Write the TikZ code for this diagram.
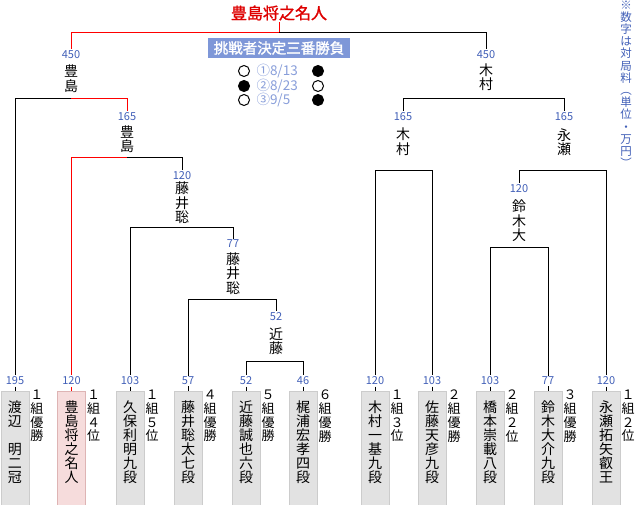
\documentclass[tikz,border=0pt]{standalone}
\usepackage{fontspec}
\usepackage{xcolor}
\usetikzlibrary{positioning}
\newfontfamily\jp{Noto Sans CJK JP}
\newfontfamily\jpbold[FakeBold=1.5]{Noto Sans CJK JP}

\definecolor{feeblue}{RGB}{66,96,184}
\definecolor{dateblue}{RGB}{136,158,218}
\definecolor{seriesblue}{RGB}{126,151,216}
\definecolor{boxgray}{RGB}{226,226,226}
\definecolor{boxedge}{RGB}{204,204,204}
\definecolor{boxpink}{RGB}{246,220,220}
\definecolor{pinkedge}{RGB}{222,180,180}
\definecolor{titlered}{RGB}{222,0,0}

\tikzset{
  fee/.style={font=\jp\fontsize{11}{11}\selectfont, text=feeblue, inner sep=1pt},
  winner/.style={font=\jp\fontsize{14}{14.5}\selectfont, align=center, inner sep=0pt},
  player/.style={minimum width=28pt, minimum height=114pt, inner sep=0pt, anchor=north},
  pname/.style={font=\jp\fontsize{14}{14}\selectfont, align=center, inner sep=0pt},
  rank/.style={font=\jp\fontsize{13}{13.8}\selectfont, align=center, inner sep=0pt},
  champ/.style={draw=red},
  stone/.style={circle, draw=black, minimum size=11pt, inner sep=0pt},
  result/.style={font=\jp\fontsize{13.5}{14}\selectfont, text=dateblue, inner sep=0pt, anchor=west}
}

\begin{document}
\begin{tikzpicture}[x=1pt,y=-1pt,line width=1pt]
\useasboundingbox (0,0) rectangle (635,505);
\fill[white] (0,0) rectangle (635,505);

\foreach \i/\x/\name/\fee/\rank/\bg/\bd/\lc in {
  1/15/渡\\辺\\　\\明\\二\\冠/195/１\\組\\優\\勝/boxgray/boxedge/black,
  2/71.5/豊\\島\\将\\之\\名\\人/120/１\\組\\４\\位/boxpink/pinkedge/red,
  3/130/久\\保\\利\\明\\九\\段/103/１\\組\\５\\位/boxgray/boxedge/black,
  4/188/藤\\井\\聡\\太\\七\\段/57/４\\組\\優\\勝/boxgray/boxedge/black,
  5/246/近\\藤\\誠\\也\\六\\段/52/５\\組\\優\\勝/boxgray/boxedge/black,
  6/303/梶\\浦\\宏\\孝\\四\\段/46/６\\組\\優\\勝/boxgray/boxedge/black,
  7/375/木\\村\\一\\基\\九\\段/120/１\\組\\３\\位/boxgray/boxedge/black,
  8/432/佐\\藤\\天\\彦\\九\\段/103/２\\組\\優\\勝/boxgray/boxedge/black,
  9/490/橋\\本\\崇\\載\\八\\段/103/２\\組\\２\\位/boxgray/boxedge/black,
  10/548/鈴\\木\\大\\介\\九\\段/77/３\\組\\優\\勝/boxgray/boxedge/black,
  11/606/永\\瀬\\拓\\矢\\叡\\王/120/１\\組\\２\\位/boxgray/boxedge/black}
{
  \node[player, fill=\bg, draw=\bd] (p\i) at (\x,391) {};
  \node[pname] (n\i) at (\x,442) {\name};
  \node[fee] (f\i) at (\x,381) {\fee};
  \node[rank] (r\i) at (\x+22,416) {\rank};
  \draw[\lc] (f\i) -- (p\i);
}

% title and final
\node[font=\jpbold\fontsize{16}{16}\selectfont, text=titlered, inner sep=1pt] (champ) at (279,13) {豊島将之名人};
\node[fill=seriesblue, text=white, font=\jpbold\fontsize{14.5}{15}\selectfont, minimum width=142pt, minimum height=20pt, inner sep=0pt] (series) at (279,48) {挑戦者決定三番勝負};
\coordinate (top) at (279,33);
\node[fee] (fA) at (71,55) {450};
\node[winner] (wA) at (71,78.5) {豊\\島};
\node[fee] (fB) at (486,55) {450};
\node[winner] (wB) at (486,77) {木\\村};
\draw[champ] (champ) -- (top) -| (fA);
\draw (top) -| (fB);

\path (244,71) node[stone] (s1a) {} (256,71) node[result] (d1) {①8/13} (318,71) node[stone,fill=black] (s1b) {}
      (244,86) node[stone,fill=black] (s2a) {} (256,86) node[result] (d2) {②8/23} (318,86) node[stone] (s2b) {}
      (244,100) node[stone] (s3a) {} (256,100) node[result] (d3) {③9/5} (318,100) node[stone,fill=black] (s3b) {};

% left half
\coordinate (jA) at (71,99);
\node[fee] (fC) at (127,117) {165};
\node[winner] (wC) at (127,139) {豊\\島};
\draw (jA) -| (f1);
\draw[champ] (jA) -| (fC);
\coordinate (jC) at (127,158);
\node[fee] (fD) at (182,176) {120};
\node[winner] (wD) at (182,203) {藤\\井\\聡};
\draw[champ] (jC) -| (f2);
\draw (jC) -| (fD);
\coordinate (jD) at (182,228);
\node[fee] (fE) at (233,244) {77};
\node[winner] (wE) at (233,273.5) {藤\\井\\聡};
\draw (jD) -| (f3);
\draw (jD) -| (fE);
\coordinate (jE) at (233,300);
\node[fee] (fF) at (276,317) {52};
\node[winner] (wF) at (276,341) {近\\藤};
\draw (jE) -| (f4);
\draw (jE) -| (fF);
\coordinate (jF) at (276,361);
\draw (jF) -| (f5);
\draw (jF) -| (f6);

% right half
\coordinate (jB) at (486,99);
\node[fee] (fG) at (403,117) {165};
\node[winner] (wG) at (403,141.5) {木\\村};
\node[fee] (fH) at (564,117) {165};
\node[winner] (wH) at (564,142) {永\\瀬};
\draw (jB) -| (fG);
\draw (jB) -| (fH);
\coordinate (jG) at (403.5,171);
\draw (jG) -| (f7);
\draw (jG) -| (f8);
\coordinate (jH) at (564,171);
\node[fee] (fI) at (519,189) {120};
\node[winner] (wI) at (519,221) {鈴\\木\\大};
\draw (jH) -| (fI);
\draw (jH) -| (f11);
\coordinate (jI) at (519,248);
\draw (jI) -| (f9);
\draw (jI) -| (f10);

\node[font=\jp\fontsize{11.5}{12.2}\selectfont, text=feeblue, align=center, inner sep=0pt, anchor=north] (note) at (626,0) {※\\数\\字\\は\\対\\局\\料\\︵\\単\\位\\・\\万\\円\\︶};

\end{tikzpicture}
\end{document}
